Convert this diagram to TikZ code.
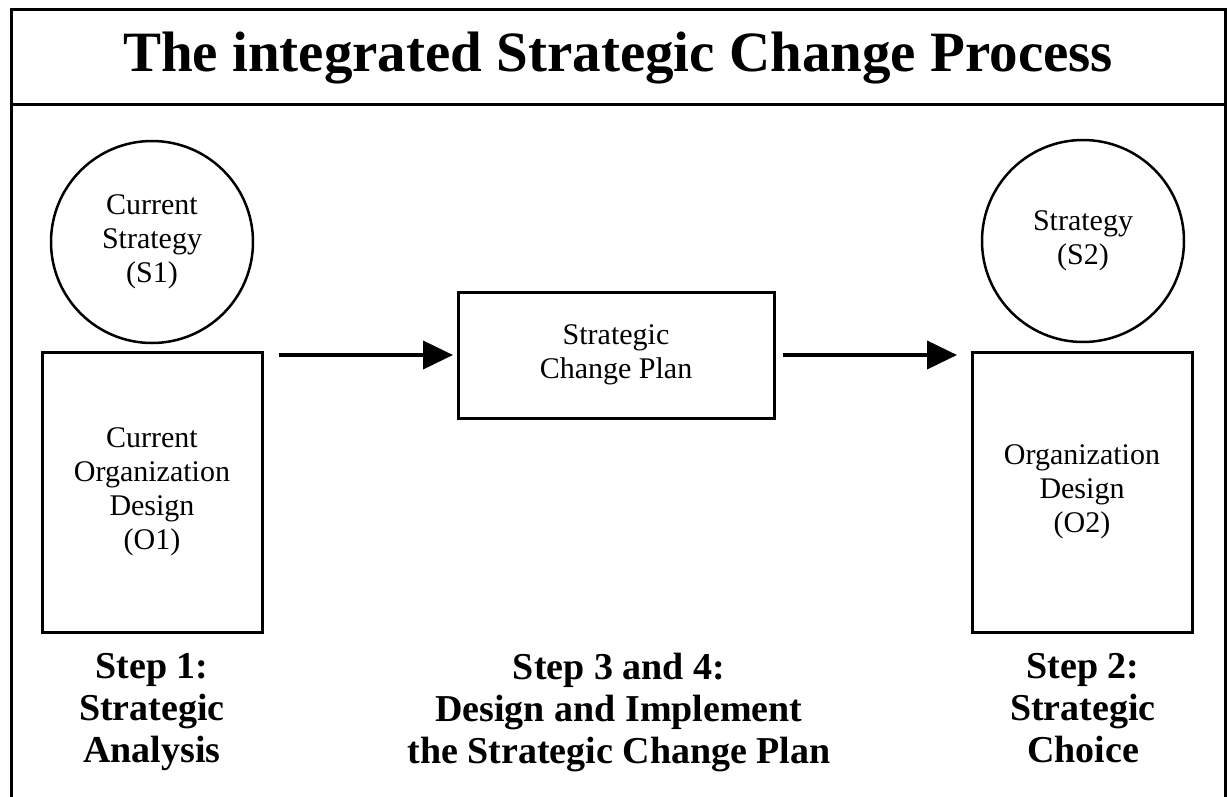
\documentclass[tikz,border=0pt]{standalone}
\usepackage{fontspec}
\setmainfont{Liberation Serif}
\usetikzlibrary{arrows.meta}
\tikzset{>={Triangle[length=30pt,width=28pt]},every node/.style={font=\fontsize{30}{34}\selectfont},
circ/.style={draw,line width=2.5pt,circle,minimum size=202pt,inner sep=0pt,align=center},
block/.style={draw,line width=3pt,inner sep=0pt,align=center},
steplabel/.style={font=\bfseries\fontsize{38}{42}\selectfont,align=center,anchor=north,inner sep=0pt},
flow/.style={line width=4pt,->},frame/.style={line width=3pt}}

\begin{document}
\begin{tikzpicture}[x=1pt,y=-1pt]
\useasboundingbox (0,0) rectangle (1227,797);
% Cadre et titre, puis les deux états (S1,O1) et (S2,O2) reliés par le plan de changement.
\draw[frame] (11,797)--(11,10)--(1225.5,10)--(1225.5,797);
\draw[frame] (11,105)--(1225.5,105);
\node[font=\bfseries\fontsize{57}{60}\selectfont,anchor=base] (title) at (618,72){The integrated Strategic Change Process};
\node[circ] (strat1) at (152,242){Current\\Strategy\\(S1)};
\node[block,minimum width=220pt,minimum height=280pt] (org1) at (152,492){Current\\Organization\\Design\\(O1)};
\node[block,minimum width=316pt,minimum height=126pt] (plan) at (616,355){Strategic\\Change Plan};
\node[circ] (strat2) at (1083,241){Strategy\\(S2)};
\node[block,minimum width=220pt,minimum height=280pt] (org2) at (1082,492){Organization\\Design\\(O2)};
\draw[flow,shorten <=15.5pt,shorten >=3.5pt] (org1.east |- plan.west)--(plan.west);
\draw[flow,shorten <=7.5pt,shorten >=13.5pt] (plan.east)--(plan.east -| org2.west);
\node[steplabel] (step1) at (152,653){Step 1:\\Strategic\\Analysis};
\node[steplabel] (step34) at (619,653){Step 3 and 4:\\Design and Implement\\the Strategic Change Plan};
\node[steplabel] (step2) at (1083,653){Step 2:\\Strategic\\Choice};
\end{tikzpicture}
\end{document}
